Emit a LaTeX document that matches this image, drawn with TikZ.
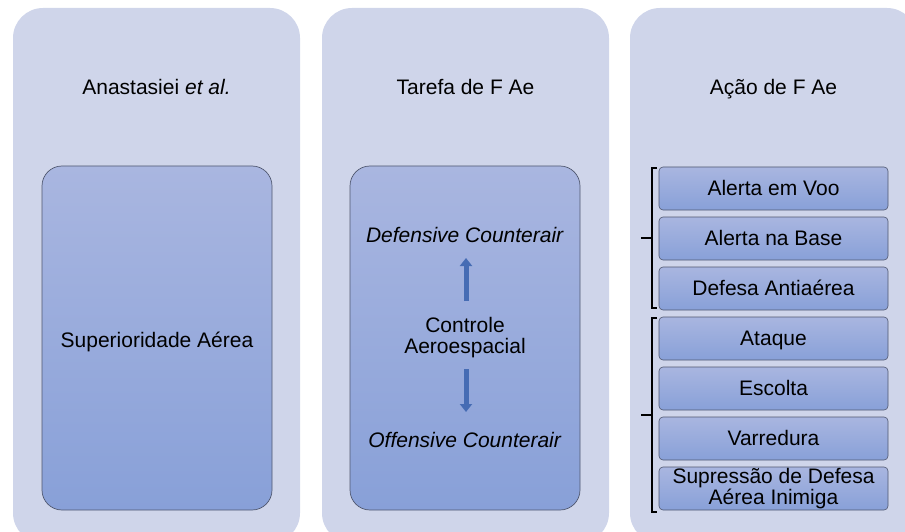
\documentclass[tikz,border=0pt]{standalone}
\usepackage{fontspec}
\setmainfont{Liberation Sans}
\usetikzlibrary{arrows.meta}
\definecolor{panel}{RGB}{207,213,234}
\definecolor{boxtop}{RGB}{169,182,224}
\definecolor{boxbot}{RGB}{136,160,216}
\definecolor{boxedge}{RGB}{80,88,112}
\definecolor{arrowc}{RGB}{70,108,180}
\newcommand\diagfont{\fontsize{21}{21.5}\selectfont}
\begin{document}
\begin{tikzpicture}[x=1pt,y=-1pt,
 panelbox/.style={fill=panel, rounded corners=30pt, minimum width=287pt, minimum height=535pt, inner sep=0pt},
 bigbox/.style={draw=boxedge, line width=0.7pt, rounded corners=20pt, top color=boxtop, bottom color=boxbot, minimum width=230pt, minimum height=344pt, inner sep=0pt, font=\diagfont},
 smallbox/.style={draw=boxedge, line width=0.6pt, rounded corners=4pt, top color=boxtop, bottom color=boxbot, minimum width=229pt, minimum height=43pt, inner sep=0pt, align=center, font=\diagfont},
 oneline/.style={text height=15pt, text depth=4.5pt},
 lbl/.style={font=\diagfont, align=center, inner sep=0pt},
 blockarrow/.style={draw=arrowc, line width=5pt, -{Triangle[width=12pt,length=8pt]}},
 bracket/.style={draw=black, line width=1.2pt}]
\useasboundingbox (0,0) rectangle (905,532);
\begin{scope}
\clip (0,0) rectangle (905,532);
\node[panelbox] (p1) at (156.5,275.5) {};
\node[panelbox] (p2) at (465.5,275.5) {};
\node[panelbox] (p3) at (773.5,275.5) {};
\end{scope}
% titles
\node[lbl,oneline] (t1) at (156.5,89) {Anastasiei \textit{et al.}};
\node[lbl,oneline] (t2) at (465.5,89) {Tarefa de F Ae};
\node[lbl,oneline] (t3) at (773.5,89) {Ação de F Ae};
% left big box
\node[bigbox] (b1) at (157,338) {};
\node[lbl,oneline] (sup) at (157,342) {Superioridade Aérea};
% middle big box
\node[bigbox] (b2) at (465,338) {};
\node[lbl,oneline] (dca) at (465,237) {\textit{Defensive Counterair}};
\node[lbl] (ctrl) at (465,337.5) {Controle\\Aeroespacial};
\node[lbl,oneline] (oca) at (465,442) {\textit{Offensive Counterair}};
\coordinate (upS) at (466,301);
\coordinate (upE) at (466,258);
\coordinate (dnS) at (466,369);
\coordinate (dnE) at (466,412);
\draw[blockarrow] (upS) -- (upE);
\draw[blockarrow] (dnS) -- (dnE);
% right small boxes
\node[smallbox] (s1) at (773.5,188.5) {};
\node[smallbox] (s2) at (773.5,238.5) {};
\node[smallbox] (s3) at (773.5,288.5) {};
\node[smallbox] (s4) at (773.5,338.5) {};
\node[smallbox] (s5) at (773.5,388.5) {};
\node[smallbox] (s6) at (773.5,438.5) {};
\node[smallbox] (s7) at (773.5,488.5) {Supressão de Defesa\\Aérea Inimiga};
\node[lbl,oneline] at ([yshift=-2pt]s1.center) {Alerta em Voo};
\node[lbl,oneline] at ([yshift=-2pt]s2.center) {Alerta na Base};
\node[lbl,oneline] at ([yshift=-2pt]s3.center) {Defesa Antiaérea};
\node[lbl,oneline] at ([yshift=-2pt]s4.center) {Ataque};
\node[lbl,oneline] at ([yshift=-2pt]s5.center) {Escolta};
\node[lbl,oneline] at ([yshift=-2pt]s6.center) {Varredura};
% brackets
\draw[bracket] (657,168) -- (652,168) -- (652,308) -- (657,308);
\draw[bracket] (641,238) -- (652,238);
\draw[bracket] (657,318) -- (652,318) -- (652,512) -- (657,512);
\draw[bracket] (641,415) -- (652,415);
\end{tikzpicture}
\end{document}
